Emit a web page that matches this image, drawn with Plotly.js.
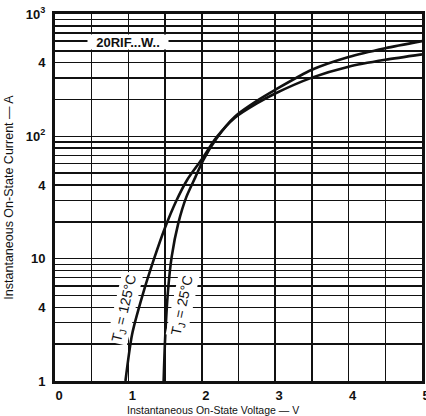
<!DOCTYPE html>
<html>
<head>
<meta charset="utf-8">
<script src="https://cdn.plot.ly/plotly-3.0.1.min.js"></script>
<style>
  html, body { margin: 0; padding: 0; background: #fff; }
  #chart { width: 426px; height: 416px; }
</style>
</head>
<body>
<div id="chart"></div>
<script>
// On-state characteristic, 20RIF...W.. series
// TJ = 125 °C curve: voltage (V) and current (A)
const volt125 = [0.96, 1.05, 1.20, 1.35, 1.50, 1.65, 1.80, 2.00, 2.20, 2.45, 2.75, 3.0, 3.5, 4.0, 4.5, 5.0];
const amp125  = [1, 2.4, 5.2, 10, 18, 29.5, 44, 65, 98, 142, 186, 224, 302, 371, 422, 468];

// TJ = 25 °C curve
const volt25 = [1.48, 1.50, 1.54, 1.59, 1.68, 1.79, 1.91, 2.02, 2.20, 2.45, 2.75, 3.0, 3.5, 4.0, 4.5, 5.0];
const amp25  = [1, 2.2, 5.5, 10.4, 19.5, 32, 46, 64, 96, 145, 195, 240, 350, 445, 525, 600];

// Axis ticks
const xTickVals = [0, 1, 2, 3, 4, 5];
const xTickText = ['0', '1', '2', '3', '4', '5'];
const yTickVals = [1, 4, 10, 40, 100, 400, 1000];
const yTickText = ['1', '4', '10', '4', '10<sup>2</sup>', '4', '10<sup>3</sup>'];
// remaining log-decade grid lines
const yMinorVals = [2, 3, 5, 6, 7, 8, 9, 20, 30, 50, 60, 70, 80, 90, 200, 300, 500, 600, 700, 800, 900];

const INK = '#111111';
const FONT = 'Liberation Sans, Arial, Helvetica, sans-serif';

const curveLine = { color: INK, width: 2.6, shape: 'spline', smoothing: 0.7 };

const traces = [
  { x: volt125, y: amp125, mode: 'lines', line: curveLine, name: 'TJ = 125°C', hoverinfo: 'x+y' },
  { x: volt25,  y: amp25,  mode: 'lines', line: curveLine, name: 'TJ = 25°C',  hoverinfo: 'x+y' }
];

const layout = {
  width: 426,
  height: 416,
  margin: { l: 55, r: 4, t: 14, b: 35 },
  paper_bgcolor: '#ffffff',
  plot_bgcolor: '#ffffff',
  showlegend: false,
  font: { family: FONT, color: INK },
  xaxis: {
    range: [0, 5],
    tickmode: 'array',
    tickvals: xTickVals,
    ticktext: xTickText,
    ticks: '',
    ticklabelshift: 4,
    ticklabelstandoff: 0,
    ticklabeloverflow: 'allow',
    tickfont: { family: FONT, size: 13, color: INK, weight: 'bold' },
    showgrid: true,
    gridcolor: INK,
    gridwidth: 1.5,
    minor: { tickmode: 'linear', tick0: 0, dtick: 0.5, showgrid: true, gridcolor: INK, gridwidth: 1.5 },
    zeroline: false,
    showline: true,
    linecolor: INK,
    linewidth: 3,
    mirror: true,
    fixedrange: true
  },
  yaxis: {
    type: 'log',
    range: [0, 3],
    tickmode: 'array',
    tickvals: yTickVals,
    ticktext: yTickText,
    ticks: '',
    ticklabelstandoff: 4,
    tickfont: { family: FONT, size: 13, color: INK, weight: 'bold' },
    showgrid: true,
    gridcolor: INK,
    gridwidth: 1.5,
    minor: { tickmode: 'array', tickvals: yMinorVals, showgrid: true, gridcolor: INK, gridwidth: 1.5 },
    zeroline: false,
    showline: true,
    linecolor: INK,
    linewidth: 3,
    mirror: true,
    title: {
      text: 'Instantaneous On-State Current — A',
      font: { family: FONT, size: 12.5, color: INK },
      standoff: 10
    },
    fixedrange: true
  },
  annotations: [
    {
      text: '20RIF...W..',
      x: 1.0, y: Math.log10(586), xref: 'x', yref: 'y',
      showarrow: false,
      bgcolor: '#ffffff',
      width: 80, height: 14, borderpad: 0,
      font: { family: FONT, size: 13, color: INK, weight: 'bold' }
    },
    {
      text: 'T<sub>J</sub> = 125°C',
      x: 0.95, y: 0.597, xref: 'x', yref: 'y',
      textangle: -77,
      showarrow: false,
      bgcolor: '#ffffff',
      borderpad: 1,
      font: { family: FONT, size: 14, color: INK }
    },
    {
      text: 'T<sub>J</sub> = 25°C',
      x: 1.74, y: 0.621, xref: 'x', yref: 'y',
      textangle: -78,
      showarrow: false,
      bgcolor: '#ffffff',
      borderpad: 1,
      font: { family: FONT, size: 14, color: INK }
    },
    {
      text: 'Instantaneous On-State Voltage — V',
      x: 0.4305, y: -0.079, xref: 'paper', yref: 'paper',
      xanchor: 'center', yanchor: 'middle',
      showarrow: false,
      font: { family: FONT, size: 10.5, color: INK }
    }
  ]
};

Plotly.newPlot('chart', traces, layout, { displayModeBar: false, staticPlot: true });
</script>
</body>
</html>
